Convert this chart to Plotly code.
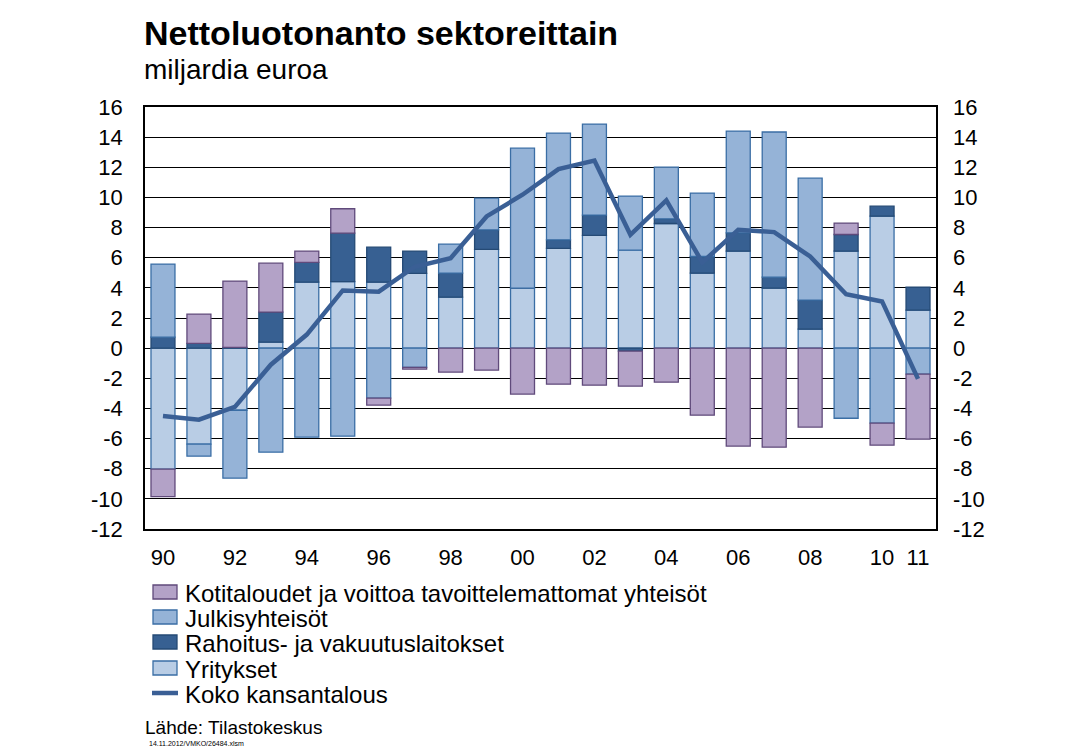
import plotly.graph_objects as go

years = list(range(1990, 2012))
yritykset = [-8.03, -6.37, -4.12, 0.40, 4.38, 4.42, 4.38, 4.96, 3.38, 6.55, 3.98, 6.62,
             7.48, 6.50, 8.27, 4.98, 6.44, 3.98, 1.26, 6.44, 8.76, 2.52]
rahoitus = [0.73, 0.31, 0.05, 1.99, 1.31, 3.21, 2.32, 1.48, 1.60, 1.30, 0.0, 0.57,
            1.35, -0.20, 0.31, 1.10, 1.21, 0.73, 1.93, 1.10, 0.66, 1.53]
julkis = [4.85, -0.80, -4.51, -6.90, -5.91, -5.84, -3.32, -1.28, 1.92, 2.11, 9.29, 7.08,
          6.04, 3.59, 3.43, 4.21, 6.75, 9.63, 8.09, -4.65, -4.98, -1.73]
kotitaloudet = [-1.82, 1.95, 4.40, 3.25, 0.75, 1.62, -0.46, -0.11, -1.59, -1.46, -3.05, -2.39,
                -2.46, -2.32, -2.26, -4.45, -6.50, -6.57, -5.24, 0.76, -1.46, -4.31]
koko = [-4.5, -4.75, -3.9, -1.1, 0.9, 3.83, 3.75, 5.4, 5.97, 8.74, 10.18, 11.88,
        12.45, 7.52, 9.8, 5.69, 7.85, 7.7, 6.08, 3.58, 3.1, -2.04]

tick_vals = list(range(-12, 17, 2))
tick_text = [str(v) for v in tick_vals]
x_tick_vals = [1990, 1992, 1994, 1996, 1998, 2000, 2002, 2004, 2006, 2008, 2010, 2011]
x_tick_text = ["90", "92", "94", "96", "98", "00", "02", "04", "06", "08", "10", "11"]

legend_names = ["Kotitaloudet ja voittoa tavoittelemattomat yhteisöt", "Julkisyhteisöt",
                "Rahoitus- ja vakuutuslaitokset", "Yritykset", "Koko kansantalous"]

FONT = "Liberation Sans, Arial, sans-serif"
W, H = 1078, 754
L, R, T, B = 145, 936, 107, 529

styles = {
    "Yritykset": ("#B9CDE5", "#3A6EA5"),
    "Rahoitus- ja vakuutuslaitokset": ("#376092", "#254A75"),
    "Julkisyhteisöt": ("#95B3D7", "#3A6EA5"),
    "Kotitaloudet ja voittoa tavoittelemattomat yhteisöt": ("#B3A2C7", "#604A7B"),
}
LINE_COLOR = "#3A5F95"

fig = go.Figure()
for name, vals in [("Yritykset", yritykset), ("Rahoitus- ja vakuutuslaitokset", rahoitus),
                   ("Julkisyhteisöt", julkis),
                   ("Kotitaloudet ja voittoa tavoittelemattomat yhteisöt", kotitaloudet)]:
    fill, edge = styles[name]
    fig.add_trace(go.Bar(x=years, y=vals, name=name, showlegend=False,
                         marker=dict(color=fill, line=dict(color=edge, width=1.3))))
fig.add_trace(go.Scatter(x=years, y=koko, name="Koko kansantalous", mode="lines", showlegend=False,
                         line=dict(color=LINE_COLOR, width=4.5), yaxis="y2"))


def px(x):
    return (x - L) / (R - L)


def py(y):
    return (B - y) / (B - T)


fig.update_layout(
    width=W, height=H,
    paper_bgcolor="white", plot_bgcolor="white",
    barmode="relative", bargap=0.333,
    margin=dict(l=L, r=W - R, t=T, b=H - B, autoexpand=False),
    font=dict(family=FONT, color="black"),
    showlegend=False,
    xaxis=dict(range=[1989.5, 2011.5], tickvals=x_tick_vals, ticktext=x_tick_text,
               tickfont=dict(size=22), showgrid=False, showline=True, linecolor="black",
               linewidth=1.5, mirror=True, ticks="", ticklabelstandoff=8, zeroline=False),
    yaxis=dict(range=[-12, 16], tickvals=tick_vals, ticktext=tick_text, tickfont=dict(size=22),
               showgrid=True, gridcolor="black", gridwidth=1.3, zeroline=True,
               zerolinecolor="black", zerolinewidth=1.3, showline=True, linecolor="black",
               linewidth=1.5, mirror=True, ticks="", ticklabelstandoff=16),
    yaxis2=dict(range=[-12, 16], tickvals=tick_vals, ticktext=tick_text, tickfont=dict(size=22),
                overlaying="y", side="right", showgrid=False, zeroline=False, ticks="",
                ticklabelstandoff=16),
)

# manual legend
rows = [592, 617, 642, 668, 693]
for i, name in enumerate(legend_names):
    yc = rows[i]
    if name in styles:
        fill, edge = styles[name]
        fig.add_shape(type="rect", xref="paper", yref="paper",
                      x0=px(153), x1=px(177), y0=py(yc - 7), y1=py(yc + 7),
                      fillcolor=fill, line=dict(color=edge, width=1.3))
    else:
        fig.add_shape(type="line", xref="paper", yref="paper",
                      x0=px(152), x1=px(178), y0=py(yc), y1=py(yc),
                      line=dict(color=LINE_COLOR, width=4.5))
    fig.add_annotation(text=name, xref="paper", yref="paper", x=px(183), y=py(yc + 1),
                       xanchor="left", yanchor="middle", showarrow=False,
                       font=dict(size=24, family=FONT))

fig.add_annotation(text="<b>Nettoluotonanto sektoreittain</b>", xref="paper", yref="paper",
                   x=px(142), y=py(33), xanchor="left", yanchor="middle", showarrow=False,
                   font=dict(size=34, family=FONT))
fig.add_annotation(text="miljardia euroa", xref="paper", yref="paper",
                   x=px(142), y=py(70), xanchor="left", yanchor="middle", showarrow=False,
                   font=dict(size=28, family=FONT))
fig.add_annotation(text="Lähde: Tilastokeskus", xref="paper", yref="paper",
                   x=px(143), y=py(727), xanchor="left", yanchor="middle", showarrow=False,
                   font=dict(size=19, family=FONT))
fig.add_annotation(text="14.11.2012/VMKO/26484.xlsm", xref="paper", yref="paper",
                   x=px(147), y=py(743), xanchor="left", yanchor="middle", showarrow=False,
                   font=dict(size=7, family=FONT))

fig.write_html("out.html", config={"displayModeBar": False},
               post_script="document.body.style.margin='0';document.body.style.padding='0';")
